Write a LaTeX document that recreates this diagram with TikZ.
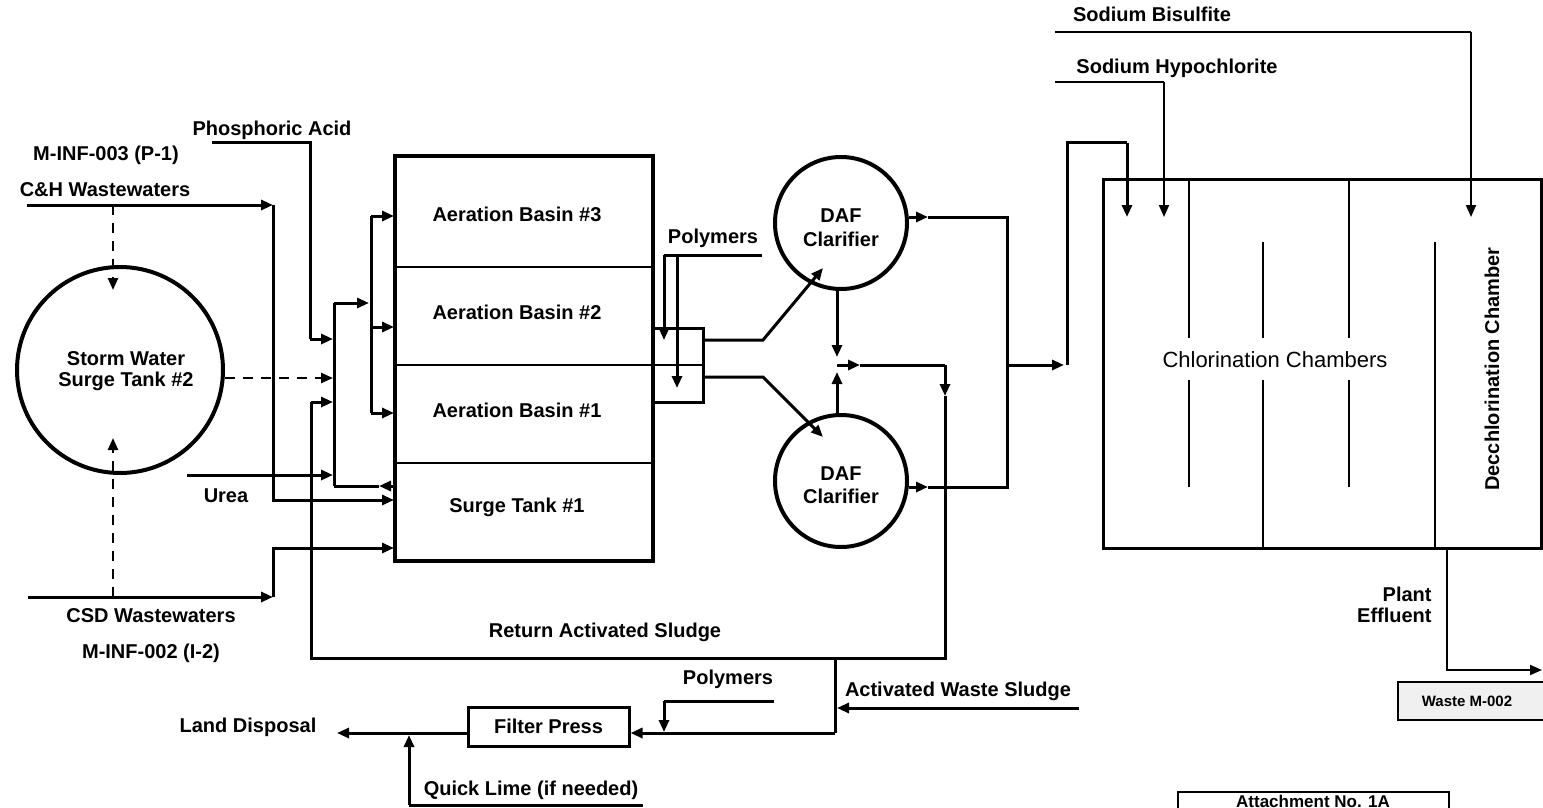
\documentclass[tikz,border=0pt]{standalone}
\usepackage{fontspec}
\setmainfont{Liberation Sans}
\usetikzlibrary{arrows.meta}
\begin{document}
\begin{tikzpicture}[x={(0.5pt,0)}, y={(0,-0.5pt)},
  lbl/.style={font=\bfseries\fontsize{10}{10.5}\selectfont, inner sep=0pt},
  pipe/.style={line width=1.5pt},
  fine/.style={line width=1pt},
  wall/.style={line width=0.75pt},
  tip/.style={-{Triangle[length=6pt,width=5pt]}},
  dsh/.style={line width=1.2pt, dash pattern=on 5pt off 4pt},
]
\useasboundingbox (0,0) rectangle (1543,808);
\begin{scope}
\clip (0,0) rectangle (1543,808);

% ---------------- shapes ----------------
\node[circle, draw, line width=2pt, minimum size=103pt, inner sep=0pt] (st2) at (120,370) {};
\node[lbl, align=center] (st2t) at (126,371) {Storm Water\\Surge Tank \#2};

\node[draw, line width=1.7pt, minimum width=129pt, minimum height=202.5pt, inner sep=0pt] (abox) at (524,358.5) {};
\node[lbl] (ab3) at (517,214) {Aeration Basin \#3};
\node[lbl] (ab2) at (517,312) {Aeration Basin \#2};
\node[lbl] (ab1) at (517,410) {Aeration Basin \#1};
\node[lbl] (st1) at (517,507) {Surge Tank \#1};
\draw[wall] (395,267) -- (653,267);
\draw[wall] (395,365) -- (703,365);
\draw[wall] (395,463) -- (653,463);

\node[draw, pipe, minimum width=25pt, minimum height=37pt, inner sep=0pt] (mix) at (678,365) {};

\node[circle, draw, line width=2pt, minimum size=66pt, inner sep=0pt] (daf1) at (841,223) {};
\node[lbl, align=center, font=\bfseries\fontsize{10}{12}\selectfont] (daf1t) at (841,228) {DAF\\Clarifier};
\node[circle, draw, line width=2pt, minimum size=66pt, inner sep=0pt] (daf2) at (841,481) {};
\node[lbl, align=center, font=\bfseries\fontsize{10}{11.5}\selectfont] (daf2t) at (841,485) {DAF\\Clarifier};

\node[draw, line width=1.5pt, minimum width=219pt, minimum height=184pt, inner sep=0pt] (chl) at (1322,364) {};
\draw[wall] (1189,180) -- (1189,338) (1189,380) -- (1189,487);
\draw[wall] (1263,242) -- (1263,338) (1263,380) -- (1263,548);
\draw[wall] (1349,180) -- (1349,338) (1349,380) -- (1349,487);
\draw[wall] (1435,242) -- (1435,548);
\node[font=\fontsize{11}{13}\selectfont, inner sep=0pt] (chlt) at (1275,360) {Chlorination Chambers};
\node[lbl, rotate=90] (dect) at (1492,369) {Decchlorination Chamber};

\node[draw, line width=1.5pt, minimum width=80.5pt, minimum height=19.5pt, inner sep=0pt, lbl] (fp) at (548.5,726.5) {Filter Press};

\node[draw, line width=1.2pt, fill=gray!12, minimum width=76pt, minimum height=19pt, inner sep=0pt] (wm) at (1474,701) {};
\node[lbl, font=\bfseries\fontsize{7.5}{9}\selectfont] (wmt) at (1467,701) {Waste M-002};

\node[draw, line width=1pt, minimum width=135.5pt, minimum height=20pt, inner sep=0pt] (att) at (1313,812) {};
\node[lbl, font=\bfseries\fontsize{8.5}{10}\selectfont] (attt) at (1313,801) {Attachment No. 1A};

% ---------------- labels ----------------
\node[lbl] (pa) at (272,130) {Phosphoric Acid};
\node[lbl] (mi3) at (106,155) {M-INF-003 (P-1)};
\node[lbl] (ch) at (105,190) {C\&H Wastewaters};
\node[lbl] (urea) at (226,496) {Urea};
\node[lbl] (csd) at (151,616) {CSD Wastewaters};
\node[lbl] (mi2) at (151,653) {M-INF-002 (I-2)};
\node[lbl] (ras) at (605,632) {Return Activated Sludge};
\node[lbl] (poly1) at (713,238) {Polymers};
\node[lbl] (poly2) at (728,679) {Polymers};
\node[lbl] (aws) at (958,691) {Activated Waste Sludge};
\node[lbl] (ld) at (248,727) {Land Disposal};
\node[lbl] (ql) at (531,790) {Quick Lime (if needed)};
\node[lbl] (sb) at (1152,14) {Sodium Bisulfite};
\node[lbl] (sh) at (1177,68) {Sodium Hypochlorite};
\node[lbl, align=right, anchor=east] (pe) at (1432,605) {Plant\\Effluent};

% ---------------- coordinates ----------------
\coordinate (col) at (334,303);
\coordinate (dist) at (371,216);

% ---------------- connectors ----------------
% Phosphoric acid
\draw[pipe] (212,143) -- (310,143) -- (310,339);
\draw[pipe,tip] (310,339) -- (333,339);
% C&H wastewaters
\draw[pipe,tip] (27,205) -- (273,205);
\draw[pipe,tip] (273,205) -- (273,500) -- (394,500);
% CSD wastewaters
\draw[pipe,tip] (28,597) -- (273,597);
\draw[pipe,tip] (273,597) -- (273,548) -- (394,548);
% dashed storm water
\draw[dsh,tip] (113,205) -- (113,290);
\draw[dsh,tip] (113,597) -- (113,438);
\draw[dsh,tip] (st2.east |- 0,378) -- (333,378);
% urea
\draw[pipe,tip] (187,475) -- (333,475);
% collector and distribution
\draw[pipe] (334,303) -- (334,486);
\draw[pipe,tip] (col) -- (369,303);
\draw[pipe] (dist) -- (371,413);
\draw[pipe,tip] (dist) -- (394,216);
\draw[pipe,tip] (371,327) -- (394,327);
\draw[pipe,tip] (371,413) -- (394,413);
\draw[pipe,tip] (395,486) -- (379,486);
\draw[pipe] (379,486) -- (334,486);
% polymers to mix tank
\draw[pipe] (762,255) -- (664,255);
\draw[pipe,tip] (664,255) -- (664,340);
\draw[pipe,tip] (677,255) -- (677,388);
% mix tank to DAF
\draw[pipe,tip] (703,340) -- (763,340) -- (823,268);
\draw[pipe,tip] (703,377) -- (763,377) -- (823,437);
% DAF underflow
\draw[pipe,tip] (837,291) -- (837,357);
\draw[pipe,tip] (837,414) -- (837,372);
\draw[pipe,tip] (837,365) -- (860,365);
\draw[pipe] (860,365) -- (945,365);
\draw[pipe,tip] (945,365) -- (945,396);
\draw[pipe] (945,396) -- (945,658) -- (311,658) -- (311,402);
\draw[pipe,tip] (311,402) -- (333,402);
% DAF effluent
\draw[pipe,tip] (909,217) -- (928,217);
\draw[pipe] (928,217) -- (1007,217) -- (1007,487) -- (928,487);
\draw[pipe,tip] (909,487) -- (928,487);
\draw[pipe,tip] (1007,365) -- (1064,365);
\draw[pipe] (1067,365) -- (1067,143) -- (1127,143);
\draw[pipe,tip] (1127,143) -- (1127,217);
% chemicals to chlorination
\draw[fine] (1055,82) -- (1164,82);
\draw[fine,tip] (1164,82) -- (1164,217);
\draw[fine] (1055,32) -- (1471,32);
\draw[fine,tip] (1471,32) -- (1471,217);
% plant effluent
\draw[fine,tip] (1447,548) -- (1447,670) -- (1542,670);
% waste sludge
\draw[pipe,tip] (1079,708) -- (837,708);
\draw[pipe] (835,658) -- (835,733);
\draw[pipe,tip] (835,733) -- (fp.east |- 0,733);
\draw[pipe] (774,701) -- (664,701);
\draw[pipe,tip] (664,701) -- (664,732);
\draw[pipe,tip] (fp.west |- 0,733) -- (337,733);
\draw[pipe] (643,805) -- (409,805);
\draw[pipe,tip] (409,805) -- (409,735);
\end{scope}
\end{tikzpicture}
\end{document}
